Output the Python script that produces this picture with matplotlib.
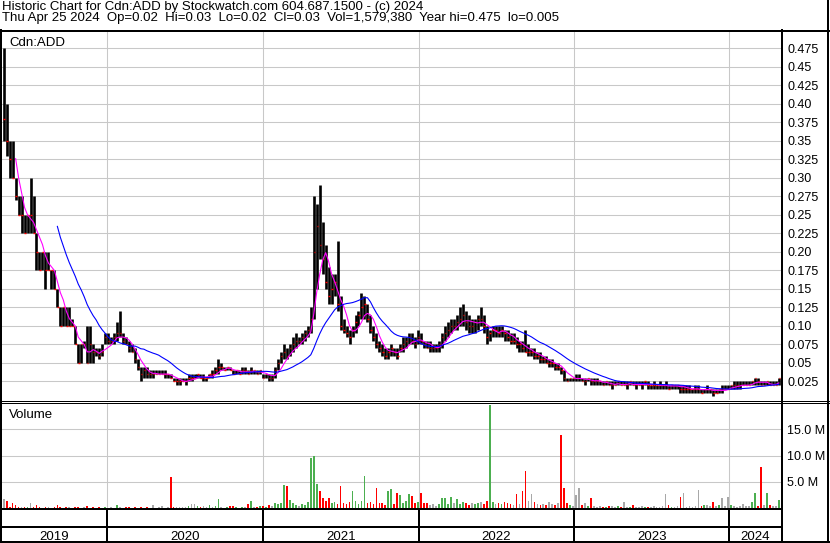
import matplotlib
matplotlib.use('Agg')
import matplotlib.pyplot as plt
import matplotlib.dates as mdates
import numpy as np
import pandas as pd

plt.rcParams['font.family'] = ['Liberation Sans', 'DejaVu Sans']

# weekly bars (week ending Friday), first week 2019-05-03, last 2024-04-26
high_2019 = [.475, .40, .35, .35, .30, .275, .275, .25, .25, .30, .275, .225, .20, .20, .20,
             .20, .175, .175, .15, .125, .125, .125, .125, .11, .10, .075, .075, .08, .10, .10,
             .075, .07, .07, .075, .09]
low_2019 = [.35, .33, .30, .30, .27, .25, .225, .225, .225, .225, .225, .175, .175, .175, .15,
            .175, .15, .15, .125, .10, .10, .10, .10, .10, .075, .05, .05, .07, .05, .05,
            .05, .06, .055, .06, .075]
close_2019 = [.38, .35, .325, .30, .275, .25, .25, .225, .25, .25, .225, .20, .175, .20, .175,
              .175, .175, .15, .125, .10, .125, .10, .10, .10, .075, .05, .075, .075, .05, .075,
              .065, .065, .06, .065, .085]
vol_2019 = [1.8, 1.4, .3, .95, .64, .2, .3, .2, .2, 1.1, .3, .6, .2, .1, .3,
            .2, .1, .2, .6, .2, .1, .2, .3, .1, .2, .3, .1, .2, .44, .1,
            .2, .1, .3, .1, .2]

high_2020 = [.09, .085, .09, .105, .12, .09, .085, .08, .075, .07, .055, .045, .045, .045, .04,
             .04, .04, .04, .04, .04, .035, .035, .03, .03, .03, .03, .03, .035, .035, .035,
             .035, .035, .035, .03, .035, .04, .045, .055, .05, .045, .045, .045, .04, .04, .04,
             .045, .045, .04, .045, .04, .04, .04]
low_2020 = [.075, .075, .075, .08, .085, .075, .075, .065, .065, .05, .04, .025, .03, .03, .03,
            .03, .035, .035, .035, .03, .03, .03, .025, .02, .02, .025, .02, .025, .025, .03,
            .03, .03, .025, .025, .03, .03, .035, .035, .04, .04, .04, .04, .035, .035, .035,
            .035, .035, .035, .035, .035, .035, .035]
close_2020 = [.08, .08, .085, .09, .09, .08, .075, .07, .065, .055, .045, .035, .04, .035, .035,
              .035, .035, .035, .035, .035, .035, .03, .025, .025, .025, .025, .025, .03, .03, .03,
              .035, .03, .03, .03, .035, .035, .04, .045, .045, .04, .045, .04, .035, .04, .035,
              .04, .04, .035, .04, .04, .035, .04]
vol_2020 = [.1, .3, .1, .6, .2, .1, .3, .2, .1, .2, .1, .3, .1, .2, .1,
            .6, .1, .2, .44, .1, .3, 6.0, .3, .2, .2, .3, .2, .5, .8, .8,
            .5, .2, .4, .3, .6, .3, .5, 1.8, .3, .1, .2, .4, .5, .2, .1,
            .3, .2, .8, 1.4, .3, .2, .4]

high_2021 = [.035, .035, .035, .035, .045, .055, .065, .075, .07, .075, .085, .09, .085, .09, .095,
             .10, .125, .275, .265, .29, .24, .21, .18, .17, .17, .215, .14, .11, .10, .095,
             .10, .115, .12, .145, .14, .13, .115, .10, .09, .08, .075, .07, .07, .075, .07,
             .07, .075, .085, .085, .09, .09, .085]
low_2021 = [.03, .03, .025, .025, .03, .04, .05, .055, .055, .06, .065, .07, .075, .075, .08,
            .085, .09, .11, .15, .19, .17, .15, .13, .13, .14, .12, .095, .09, .085, .075,
            .085, .09, .10, .11, .11, .105, .09, .08, .07, .065, .06, .055, .055, .06, .06,
            .055, .065, .065, .07, .075, .075, .07]
close_2021 = [.03, .035, .03, .03, .04, .05, .06, .065, .06, .07, .075, .08, .08, .085, .09,
              .095, .11, .20, .235, .21, .19, .16, .14, .15, .16, .13, .10, .095, .09, .085,
              .095, .105, .115, .125, .13, .11, .095, .085, .075, .07, .065, .06, .065, .07, .065,
              .06, .07, .075, .08, .085, .08, .075]
vol_2021 = [.5, .3, .6, .4, 1.0, .9, 1.0, 4.4, 4.3, 1.6, 1.0, .6, .5, .8, .6,
            1.2, 9.5, 10.0, 4.6, 3.3, 1.9, 1.4, 1.9, .95, 1.2, .8, 4.3, 1.0, .9, 1.2,
            3.3, 1.4, .8, 1.4, 6.2, 1.0, 1.2, .8, 3.8, 1.0, 1.0, .7, 3.3, 3.6, .9,
            2.9, 2.5, 1.0, 1.4, 2.7, 2.3, 1.0]

high_2022 = [.095, .09, .08, .08, .08, .075, .075, .08, .09, .10, .105, .11, .11, .115, .125,
             .13, .12, .115, .11, .11, .115, .125, .115, .10, .095, .10, .10, .10, .10, .095,
             .095, .09, .09, .085, .08, .08, .095, .075, .07, .07, .065, .065, .06, .06, .055,
             .055, .05, .05, .045, .04, .03, .03]
low_2022 = [.075, .075, .07, .07, .065, .065, .065, .065, .07, .08, .085, .09, .095, .095, .10,
            .10, .095, .09, .09, .09, .095, .10, .09, .075, .08, .085, .085, .085, .085, .08,
            .08, .075, .075, .07, .065, .065, .065, .06, .06, .055, .055, .05, .05, .05, .045,
            .045, .04, .04, .035, .025, .025, .025]
close_2022 = [.085, .08, .075, .07, .07, .07, .07, .075, .085, .09, .095, .10, .10, .105, .11,
              .115, .105, .10, .10, .105, .11, .11, .10, .085, .09, .095, .095, .09, .095, .09,
              .085, .08, .08, .075, .075, .07, .065, .065, .065, .06, .06, .055, .055, .05, .05,
              .05, .045, .045, .04, .03, .025, .03]
vol_2022 = [1.2, 3.0, 1.0, 1.1, .6, .8, .5, .9, 1.9, 1.9, .8, 2.2, 1.0, 1.7, .9,
            1.3, 1.0, .7, 1.0, .8, 1.1, 1.3, .9, 1.5, 19.5, 1.2, .9, 1.0, .8, 1.3,
            1.1, .9, .7, 2.7, .9, 3.3, 7.0, 1.5, 2.8, 1.2, .8, .6, .9, .7, 1.3,
            .8, .6, 1.0, 13.9, 3.9, 1.0, .6]

high_2023 = [.03, .035, .035, .03, .03, .03, .03, .03, .03, .025, .025, .025, .025, .025, .025,
             .025, .025, .025, .025, .025, .025, .025, .025, .025, .025, .025, .02, .025, .02, .025,
             .02, .025, .02, .02, .02, .02, .02, .02, .02, .02, .015, .02, .02, .015, .015,
             .02, .015, .015, .015, .015, .02, .02, .02]
low_2023 = [.025, .025, .025, .025, .02, .025, .02, .02, .02, .02, .02, .02, .02, .015, .02,
            .02, .02, .02, .015, .02, .02, .015, .02, .015, .02, .015, .015, .015, .015, .015,
            .015, .015, .015, .015, .015, .015, .01, .01, .01, .01, .01, .01, .01, .01, .01,
            .01, .01, .005, .01, .01, .01, .015, .015]
close_2023 = [.03, .03, .03, .025, .025, .03, .025, .025, .025, .025, .02, .025, .02, .02, .02,
              .025, .02, .02, .02, .025, .02, .02, .02, .02, .025, .02, .02, .02, .02, .02,
              .02, .02, .015, .02, .02, .02, .015, .015, .015, .015, .015, .015, .015, .01, .015,
              .015, .015, .01, .01, .015, .015, .015, .015]
vol_2023 = [.5, 2.5, 3.9, .6, 1.0, .4, 2.0, .5, .3, .4, .2, .3, .5, .4, .3,
            .4, .2, 1.3, .3, .2, .6, .3, .2, .4, .3, .2, .3, .4, .2, .3,
            .4, 2.7, .6, .3, .2, .4, 2.2, 3.0, .3, .4, .2, .5, 3.5, .4, .6,
            .7, .5, 1.3, .4, .6, 2.0, .5, 2.2]

high_2024 = [.02, .025, .025, .025, .025, .025, .025, .025, .03, .03, .025, .025, .025, .025, .025,
             .025, .03]
low_2024 = [.015, .015, .015, .015, .02, .02, .02, .02, .02, .02, .02, .02, .02, .02, .02,
            .02, .02]
close_2024 = [.02, .02, .02, .02, .02, .02, .02, .025, .03, .025, .02, .02, .025, .02, .02,
              .02, .03]
vol_2024 = [.6, .5, .3, .4, .8, .5, .4, 1.3, 3.0, .5, 7.9, .6, 2.9, .7, .5,
            .4, 1.6]

years = [2019, 2020, 2021, 2022, 2023, 2024]
price_ticks = [0.025 * k for k in range(1, 20)]
vol_ticks = [5, 10, 15]

header1 = 'Historic Chart for Cdn:ADD by Stockwatch.com 604.687.1500 - (c) 2024'
header2 = ('Thu Apr 25 2024  Op=0.02  Hi=0.03  Lo=0.02  Cl=0.03  Vol=1,579,380  '
           'Year hi=0.475  lo=0.005')

high = np.array(high_2019 + high_2020 + high_2021 + high_2022 + high_2023 + high_2024)
low = np.array(low_2019 + low_2020 + low_2021 + low_2022 + low_2023 + low_2024)
close = pd.Series(close_2019 + close_2020 + close_2021 + close_2022 + close_2023 + close_2024)
vol = np.array(vol_2019 + vol_2020 + vol_2021 + vol_2022 + vol_2023 + vol_2024)
dates = pd.date_range('2019-05-03', periods=len(close), freq='7D')
xd = mdates.date2num(dates)

ma_short = close.rolling(5).mean()
ma_long = close.rolling(19).mean()
chg = np.sign(close.diff().fillna(0).values)
vcol = np.where(chg > 0, '#4caf50', np.where(chg < 0, '#ff0000', '#a8a8a8'))

x_min = mdates.date2num(pd.Timestamp('2019-04-29'))
x_max = mdates.date2num(pd.Timestamp('2024-05-01'))
year_starts = [mdates.date2num(pd.Timestamp(f'{y}-01-01')) for y in years[1:]]

W, H = 830, 543
fig = plt.figure(figsize=(W / 100, H / 100), dpi=100)


def rect(x0, y0, x1, y1):
    return [x0 / W, 1 - y1 / H, (x1 - x0) / W, (y1 - y0) / H]


grid_kw = dict(color='#c8c8c8', lw=0.75)

# price panel
ax_p = fig.add_axes(rect(2, 31, 781, 400))
ax_p.set_xlim(x_min, x_max)
ax_p.set_ylim(0, 0.4984)
ax_p.set_yticks(price_ticks)
labels = []
for v in price_ticks:
    s = f'{v:.3f}'
    labels.append(s[:-1] if s.endswith('0') else s)
ax_p.set_yticklabels(labels)
ax_p.yaxis.tick_right()
ax_p.tick_params(axis='y', length=0, pad=4.5, labelsize=9)
ax_p.set_xticks(year_starts)
ax_p.tick_params(axis='x', length=0, labelbottom=False)
ax_p.grid(True, **grid_kw)
ax_p.set_axisbelow(True)
for s in ax_p.spines.values():
    s.set_visible(False)
ax_p.vlines(xd, low, high, color='black', lw=1.9)
ax_p.hlines(close, xd - 0.5, xd + 3, color='red', lw=1.0)
ax_p.plot(xd, ma_short, color='#ff00ff', lw=0.8)
ax_p.plot(xd, ma_long, color='#0000ff', lw=0.8)

# volume panel
ax_v = fig.add_axes(rect(2, 402.5, 781, 508.5))
ax_v.set_xlim(x_min, x_max)
ax_v.set_ylim(0, 20)
ax_v.set_yticks(vol_ticks)
ax_v.set_yticklabels([f'{v:.1f} M' for v in vol_ticks])
ax_v.yaxis.tick_right()
ax_v.tick_params(axis='y', length=0, pad=4.5, labelsize=9)
ax_v.set_xticks(year_starts)
ax_v.tick_params(axis='x', length=0, labelbottom=False)
ax_v.grid(True, **grid_kw)
ax_v.set_axisbelow(True)
for s in ax_v.spines.values():
    s.set_visible(False)
ax_v.bar(xd, vol, width=4, color=vcol, align='center')

# frame lines and labels in pixel coordinates
ax_o = fig.add_axes([0, 0, 1, 1], zorder=10)
ax_o.set_xlim(0, W)
ax_o.set_ylim(H, 0)
ax_o.axis('off')
ax_o.patch.set_alpha(0)
k = 0.72
ax_o.plot([0, 829], [30.5, 30.5], color='black', lw=2 * k)
ax_o.plot([828, 828], [0, 542], color='black', lw=2 * k)
ax_o.plot([1, 1], [30, 542], color='black', lw=2 * k)
ax_o.plot([781.5, 781.5], [30, 542], color='black', lw=2 * k)
ax_o.plot([0, 829], [400.5, 400.5], color='black', lw=1 * k)
ax_o.plot([0, 829], [402.5, 402.5], color='black', lw=1 * k)
ax_o.plot([0, 782], [509, 509], color='black', lw=2 * k)
ax_o.plot([0, 782], [527, 527], color='black', lw=2 * k)
ax_o.plot([0, 829], [541.5, 541.5], color='black', lw=2 * k)
px_per_day = (781 - 2) / (x_max - x_min)
edges = [x_min] + year_starts + [x_max]
for xs in year_starts:
    xp = 2 + (xs - x_min) * px_per_day
    ax_o.plot([xp, xp], [509, 541], color='black', lw=2 * k)
for y, a, b in zip(years, edges[:-1], edges[1:]):
    xp = 2 + ((a + b) / 2 - x_min) * px_per_day
    ax_o.text(xp, 539.5, str(y), ha='center', va='baseline', fontsize=9.5)

ax_o.text(2, 10, header1, fontsize=9.5, va='baseline')
ax_o.text(2, 21, header2, fontsize=9.5, va='baseline')
ax_o.text(9, 45.5, 'Cdn:ADD', fontsize=9.5, va='baseline')
ax_o.text(9, 417.5, 'Volume', fontsize=9.5, va='baseline')

fig.savefig('out.png', dpi=100)
